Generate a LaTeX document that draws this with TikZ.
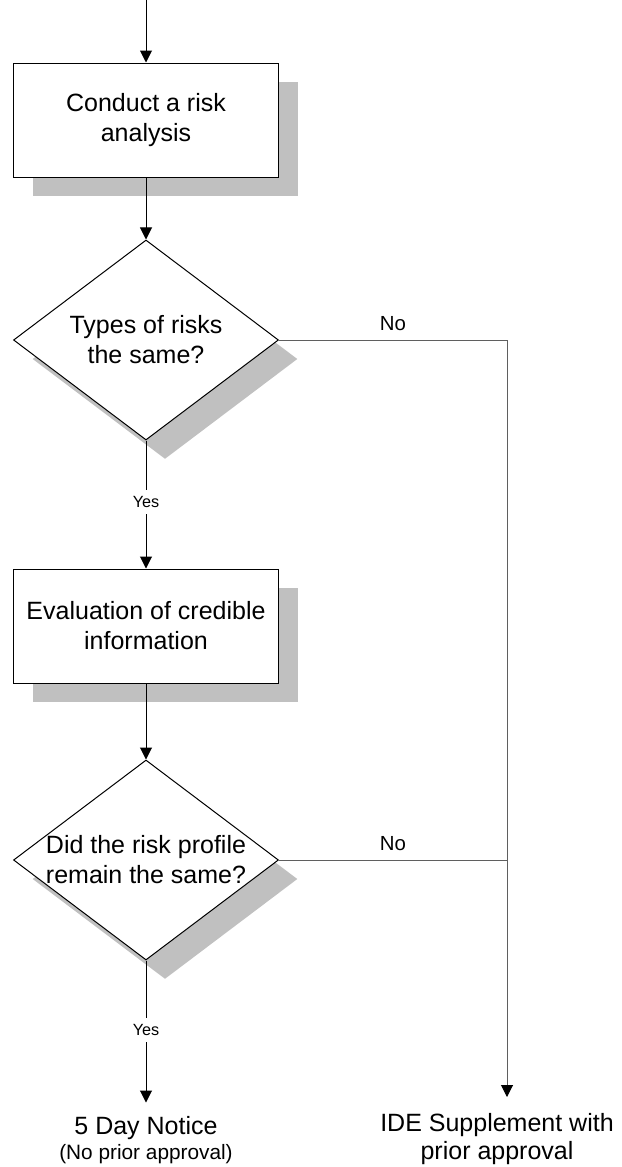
\documentclass[tikz,border=0pt]{standalone}
\usepackage{fontspec}
\setmainfont{Liberation Sans}
\usetikzlibrary{shapes.geometric, arrows.meta, positioning, shadows}
\definecolor{shade1}{RGB}{192,192,192}
\definecolor{line1}{RGB}{95,95,95}

\tikzset{
  process/.style={draw, fill=white, minimum width=132.5pt, minimum height=57pt, align=center,
    font=\fontsize{12.5}{15}\selectfont,
    drop shadow={shadow xshift=9.5pt, shadow yshift=-9.5pt, fill=shade1, opacity=1}},
  decision/.style={diamond, draw, fill=white, minimum width=132.5pt, minimum height=100pt,
    inner sep=-12pt, align=center, font=\fontsize{12.5}{15}\selectfont,
    drop shadow={shadow xshift=9.5pt, shadow yshift=-9.5pt, fill=shade1, opacity=1}},
  outcome/.style={align=center, inner xsep=0pt, inner ysep=8pt, font=\fontsize{12.5}{14}\selectfont},
  flow/.style={-{Triangle[width=6pt, length=6pt, color=black]}},
  yeslabel/.style={fill=white, inner sep=3pt, font=\fontsize{8.1}{10}\selectfont},
  nolabel/.style={above, inner sep=4.3pt, font=\fontsize{10.2}{12}\selectfont}
}

\begin{document}
\begin{tikzpicture}[x=0.5pt, y=-0.5pt, line width=0.5pt]
  \useasboundingbox (0,0) rectangle (621,1167);

  % main column
  \coordinate (start) at (146,0);
  \node[process] (analysis) at (146,120) {Conduct a risk\\analysis};
  \node[decision, below=31pt of analysis] (types) {Types of risks\\the same?};
  \node[process, below=64pt of types] (evaluation) {Evaluation of credible\\information};
  \node[decision, below=38pt of evaluation] (profile) {Did the risk profile\\remain the same?};
  \node[outcome, inner ysep=6.5pt, below=71pt of profile] (notice) {5 Day Notice\\[-1.5pt]{\fontsize{10.4}{12}\selectfont (No prior approval)}};

  % right branch
  \coordinate (join) at (types.east -| 507,0);
  \node[outcome, anchor=north] (supplement) at (497,1097) {IDE Supplement with\\prior approval};

  \draw[flow] (start) -- (analysis);
  \draw[flow] (analysis) -- (types);
  \draw[flow] (types) -- node[yeslabel, pos=0.48] {Yes} (evaluation);
  \draw[flow] (evaluation) -- (profile);
  \draw[flow] (profile) -- node[yeslabel, pos=0.49] {Yes} (notice);

  \draw[line1, flow] (types.east) -- node[nolabel, black] {No} (join) -- (join |- supplement.north);
  \draw[line1] (profile.east) -- node[nolabel, black] {No} (profile.east -| join);
\end{tikzpicture}
\end{document}
